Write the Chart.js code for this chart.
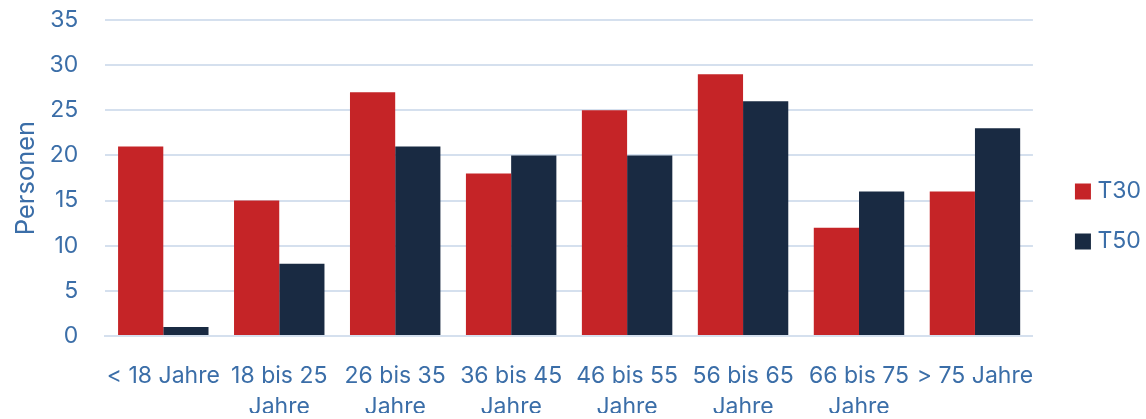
<!DOCTYPE html>
<html>
<head>
<meta charset="utf-8">
<script src="https://cdn.jsdelivr.net/npm/chart.js@4.4.0/dist/chart.umd.min.js"></script>
<style>
  html, body { margin: 0; padding: 0; background: #fff; }
  #wrap { width: 1146px; height: 419px; }
</style>
</head>
<body>
<div id="wrap"><canvas id="myChart"></canvas></div>
<script>
const categories = [
  '< 18 Jahre',
  ['18 bis 25', 'Jahre'],
  ['26 bis 35', 'Jahre'],
  ['36 bis 45', 'Jahre'],
  ['46 bis 55', 'Jahre'],
  ['56 bis 65', 'Jahre'],
  ['66 bis 75', 'Jahre'],
  '> 75 Jahre'
];
const t30 = [21, 15, 27, 18, 25, 29, 12, 16];
const t50 = [1, 8, 21, 20, 20, 26, 16, 23];

const textColor = '#3b6ea8';
const gridColor = '#d5e0ee';

Chart.defaults.font.family = 'Inter, "Noto Sans", sans-serif';
Chart.defaults.font.size = 23;
Chart.defaults.color = textColor;

const ctx = document.getElementById('myChart');
new Chart(ctx, {
  type: 'bar',
  data: {
    labels: categories,
    datasets: [{
      label: 'T30',
      data: t30,
      backgroundColor: '#c52427',
      borderWidth: 0,
      pointStyle: 'rect'
    }, {
      label: 'T50',
      data: t50,
      backgroundColor: '#192a42',
      borderWidth: 0,
      pointStyle: 'rect'
    }]
  },
  options: {
    responsive: true,
    maintainAspectRatio: false,
    animation: false,
    layout: { padding: { left: 11, right: -5, top: 20, bottom: 6 } },
    datasets: {
      bar: { categoryPercentage: 0.78, barPercentage: 1.0 }
    },
    scales: {
      x: {
        grid: { display: false },
        border: { color: gridColor, width: 2 },
        ticks: { maxRotation: 0, autoSkip: false, padding: 17, font: { lineHeight: 1.35 } },
        afterFit: (scale) => { scale.height = 77; }
      },
      y: {
        min: 0,
        max: 35,
        ticks: { stepSize: 5, padding: 0 },
        grid: { color: gridColor, lineWidth: 2, tickLength: 27, tickColor: 'rgba(0,0,0,0)' },
        border: { display: false },
        title: { display: true, text: 'Personen', font: { size: 25.5 }, padding: { top: 0, bottom: 8 } }
      },
      // empty axis on the right, only keeps a gap before the legend
      gap: {
        type: 'linear',
        position: 'right',
        grid: { display: false, drawTicks: false },
        ticks: { display: false },
        border: { display: false },
        afterFit: (scale) => { scale.width = 20; }
      }
    },
    plugins: {
      legend: {
        position: 'right',
        labels: { usePointStyle: true, boxWidth: 6, boxHeight: 16, padding: 27 }
      },
      tooltip: { enabled: false }
    }
  }
});
</script>
</body>
</html>
